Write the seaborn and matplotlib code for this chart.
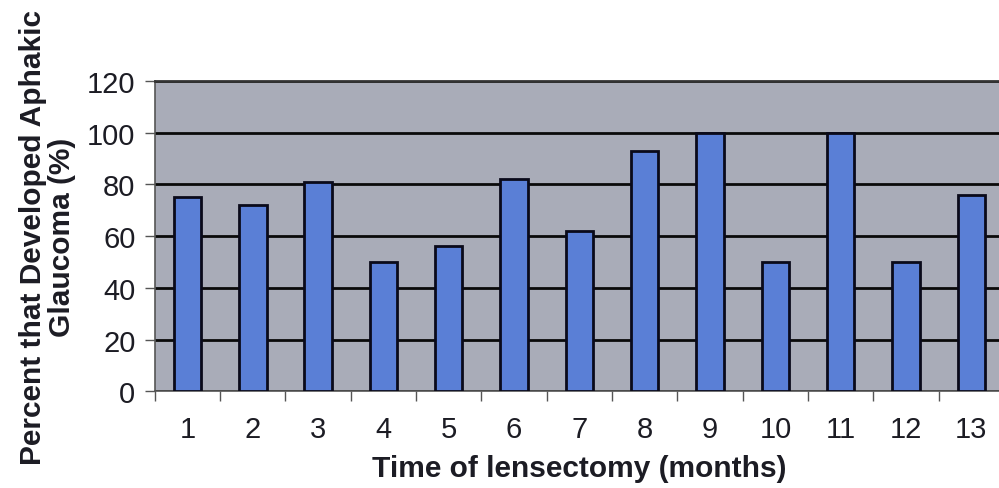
import matplotlib
matplotlib.use('Agg')
import matplotlib.pyplot as plt
import seaborn as sns
import pandas as pd

months = ['1', '2', '3', '4', '5', '6', '7', '8', '9', '10', '11', '12', '13']
percent = [75, 72, 81, 50, 56, 82, 62, 93, 100, 50, 100, 50, 76]

df = pd.DataFrame({'month': months, 'percent': percent})

sns.set_style('white')
plt.rcParams['font.family'] = ['Liberation Sans', 'DejaVu Sans']

fig = plt.figure(figsize=(9.99, 4.89), dpi=100)
ax = fig.add_axes([0.155, 0.198, 0.85, 0.634])
ax.set_facecolor('#a9acb8')

sns.barplot(data=df, x='month', y='percent', color='#5a7fd6', width=0.42,
            edgecolor='#0a0a1a', linewidth=2, saturation=1, ax=ax, zorder=3)

ax.set_ylim(0, 120)
ax.set_xlim(-0.5, 12.5)
ax.set_yticks(range(0, 121, 20))
ax.yaxis.grid(True, color='#0a0a0a', linewidth=2, zorder=1)
ax.set_axisbelow(True)

# ticks between the categories
ax.set_xticks([i + 0.5 for i in range(-1, 13)], minor=True)
ax.tick_params(axis='x', which='both', bottom=True)
ax.tick_params(axis='y', left=True)
ax.tick_params(axis='x', which='major', length=0, pad=17, labelsize=21, labelcolor='#1c1c24')
ax.tick_params(axis='x', which='minor', length=7, width=1, color='#555555', direction='out')
ax.tick_params(axis='y', length=7, width=1, color='#555555', direction='out',
               labelsize=21, labelcolor='#1c1c24', pad=7)

for side in ['left', 'bottom']:
    ax.spines[side].set_color('#555555')
    ax.spines[side].set_linewidth(1.2)
ax.spines['top'].set_color('#333333')
ax.spines['top'].set_linewidth(2)
ax.spines['right'].set_visible(False)

ax.set_xlabel('Time of lensectomy (months)', fontsize=21.5, fontweight='bold',
              color='#1c1c24', labelpad=8)
ax.set_ylabel('Percent that Developed Aphakic\nGlaucoma (%)', fontsize=21.5,
              fontweight='bold', color='#1c1c24', labelpad=8, linespacing=1.05)

plt.savefig('out.png', dpi=100)
plt.close()
